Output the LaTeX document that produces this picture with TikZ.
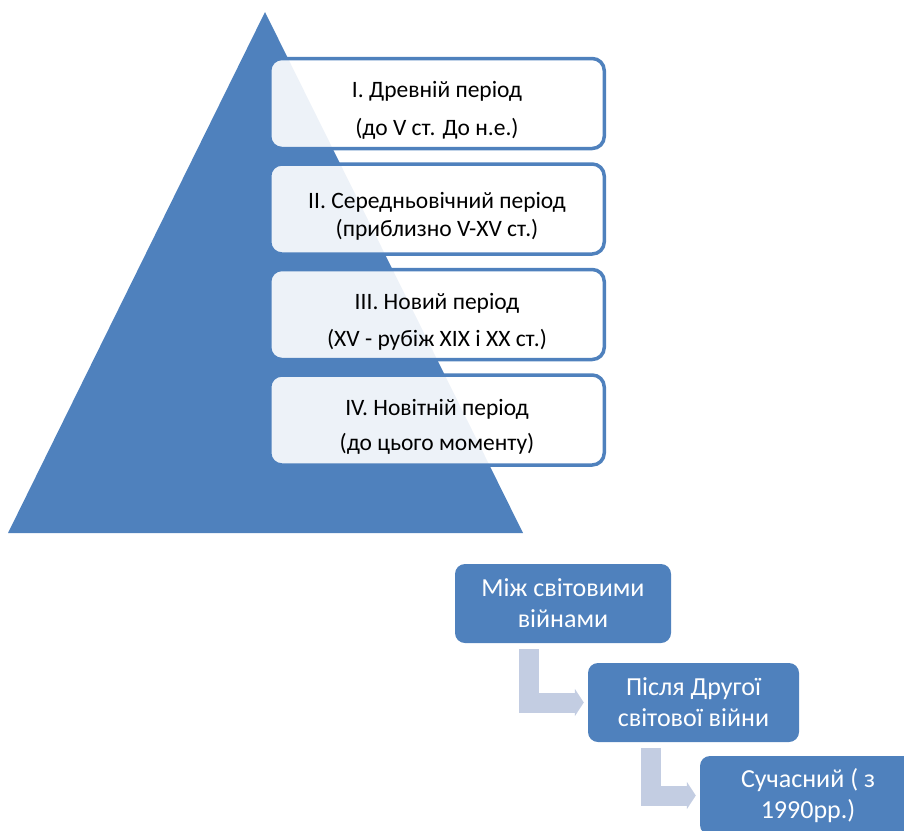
\documentclass[tikz,border=0pt]{standalone}
\usepackage{fontspec}
\setmainfont{Carlito}
\usetikzlibrary{positioning}
\usetikzlibrary{arrows.meta}
\definecolor{pblue}{RGB}{79,129,189}
\definecolor{parr}{RGB}{195,205,226}
\newcommand{\toppad}{\rule{0pt}{30pt}}

\begin{document}
\begin{tikzpicture}[
    x=1pt,y=-1pt,
    node distance=12pt,
    period/.style={rectangle,rounded corners=12pt,draw=pblue,line width=3.5pt,fill=white,fill opacity=0.9,text opacity=1,minimum width=334.5pt,minimum height=90pt,align=center,font=\fontsize{23.5}{28}\selectfont},
    stage/.style={rectangle,rounded corners=10pt,fill=pblue,text=white,minimum width=216pt,minimum height=79pt,align=center,font=\fontsize{26}{31}\selectfont},
    arr/.style={parr,line width=20pt,-{Triangle[length=9pt,width=27pt]},shorten >=4pt}
    ]
    \path[use as bounding box,clip] (0,0) rectangle (904,830);
    % pyramid
    \fill[pblue] (265,12) -- (523,533) -- (8,533) -- cycle;
    \node (p1) [period] at (437,103.5) {\toppad I. Древній період\\[10pt](до V ст. До н.е.)};
    \node (p2) [period,below=of p1] {\toppad II. Середньовічний період\\(приблизно V-XV ст.)};
    \node (p3) [period,below=of p2] {\toppad III. Новий період\\[9pt](XV - рубіж XIX і XX ст.)};
    \node (p4) [period,below=of p3] {\toppad IV. Новітній період\\[7pt](до цього моменту)};
    % steps
    \node (s1) [stage] at (563,603.5) {Між світовими\\війнами};
    \node (s2) [stage,minimum width=211pt] at (693.5,702.5) {Після Другої\\світової війни};
    \node (s3) [stage] at (808,795.5) {Сучасний ( з\\1990рр.)};
    \draw[arr] ([xshift=-34pt,yshift=-6pt]s1.south) |- (s2.west);
    \draw[arr] ([xshift=-42.5pt,yshift=-6pt]s2.south) |- (s3.west);
  \end{tikzpicture}
\end{document}
